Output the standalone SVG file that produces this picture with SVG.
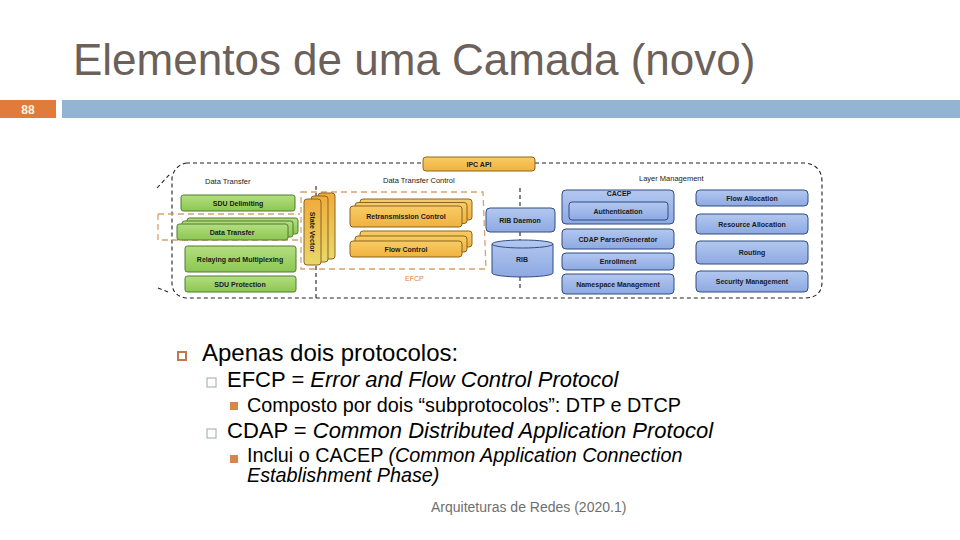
<svg xmlns="http://www.w3.org/2000/svg" width="960" height="540" viewBox="0 0 960 540">
<defs>
<linearGradient id="gGreen" x1="0" y1="0" x2="0" y2="1"><stop offset="0" stop-color="#b4de80"/><stop offset="1" stop-color="#8cc752"/></linearGradient>
<linearGradient id="gOrange" x1="0" y1="0" x2="0" y2="1"><stop offset="0" stop-color="#f8cc66"/><stop offset="1" stop-color="#f0b23e"/></linearGradient>
<linearGradient id="gSV" x1="0" y1="0" x2="0" y2="1"><stop offset="0" stop-color="#f0ac3c"/><stop offset="1" stop-color="#e8d86a"/></linearGradient>
<linearGradient id="gBlue" x1="0" y1="0" x2="0" y2="1"><stop offset="0" stop-color="#b3c8f0"/><stop offset="1" stop-color="#8ea9e2"/></linearGradient>
<style>
.title{font-family:"Liberation Sans",Arial,sans-serif;font-size:44px;fill:#6b605a}
.g{fill:url(#gGreen);stroke:#4f7a2c;stroke-width:1}
.o{fill:url(#gOrange);stroke:#8a6420;stroke-width:1}
.b{fill:url(#gBlue);stroke:#2f4d80;stroke-width:1}
.lbl{font-family:"Liberation Sans",Arial,sans-serif;font-size:7px;font-weight:bold;fill:#1a1a1a;text-anchor:middle}
.sec{font-family:"Liberation Sans",Arial,sans-serif;font-size:7.5px;fill:#1a1a1a}
.dash{fill:none;stroke:#222;stroke-width:1.1;stroke-dasharray:4 3}
.odash{fill:none;stroke:#d9a070;stroke-width:1.3;stroke-dasharray:6 4}
.t1{font-family:"Liberation Sans",Arial,sans-serif;font-size:24px;fill:#000}
.t2{font-family:"Liberation Sans",Arial,sans-serif;font-size:22px;fill:#000}
.t3{font-family:"Liberation Sans",Arial,sans-serif;font-size:19.8px;fill:#000}
</style>
</defs>
<rect width="960" height="540" fill="#ffffff"/>
<text class="title" x="73" y="75">Elementos de uma Camada (novo)</text>
<rect x="0" y="100" width="56" height="18" fill="#e07b3c"/>
<text x="28" y="113.5" font-family="Liberation Sans,Arial,sans-serif" font-size="12" font-weight="bold" fill="#fff4e0" text-anchor="middle">88</text>
<rect x="62" y="100" width="898" height="18" fill="#93b4d2"/>

<g id="connectors">
<path class="dash" d="M186,163 L423,163 M535,163 L805,163 Q822,165 822,182 L822,282 Q822,297 806,298 L186,298 Q173,296 172,284 L172,178 Q174,166 186,163"/>
<path class="dash" d="M157,188 L170,174 M158,288 L168,292"/>
<path class="dash" d="M316,186 L316,196 M316,266 L316,298 M520,188 L520,208 M520,232 L520,241 M520,277 L520,291"/>
</g>

<g id="highlight-efcp">
<path class="odash" d="M158,214 L300,214 M158,214 L158,240 L300,240"/>
<path class="odash" d="M301,192 L483,192 L486,269 L301,269 Z"/>
<text x="405" y="281" font-family="Liberation Sans,Arial,sans-serif" font-size="7" fill="#d9823a">EFCP</text>
</g>

<g id="ipc-api">
<rect class="o" x="423" y="157" width="112" height="14" rx="3"/>
<text class="lbl" x="479" y="166.5">IPC API</text>
</g>

<text class="sec" x="205" y="184">Data Transfer</text>
<text class="sec" x="383" y="183">Data Transfer Control</text>
<text class="sec" x="639" y="181">Layer Management</text>

<g id="sdu-delimiting">
<rect class="g" x="181" y="195" width="114" height="16" rx="2.5"/>
<text class="lbl" x="238" y="205.5">SDU Delimiting</text>
</g>
<g id="data-transfer">
<rect class="g" x="187" y="218" width="111" height="16" rx="2.5"/>
<rect class="g" x="182" y="221" width="111" height="16" rx="2.5"/>
<rect class="g" x="177" y="224" width="111" height="16" rx="2.5"/>
<text class="lbl" x="232" y="234.5">Data Transfer</text>
</g>
<g id="relaying">
<rect class="g" x="185" y="246" width="111" height="26" rx="2.5"/>
<text class="lbl" x="240" y="261.5">Relaying and Multiplexing</text>
</g>
<g id="sdu-protection">
<rect class="g" x="185" y="276" width="111" height="16" rx="2.5"/>
<text class="lbl" x="240" y="286.5">SDU Protection</text>
</g>

<g id="state-vector">
<rect fill="url(#gSV)" stroke="#8a6420" x="318" y="193" width="17" height="66" rx="3"/>
<rect fill="url(#gSV)" stroke="#8a6420" x="311" y="196" width="17" height="66" rx="3"/>
<rect fill="url(#gSV)" stroke="#8a6420" x="304" y="199" width="17" height="66" rx="3"/>
<text class="lbl" transform="translate(310,232) rotate(90)" x="0" y="0">State Vector</text>
</g>

<g id="retransmission-control">
<rect class="o" x="360" y="199" width="112" height="21" rx="3"/>
<rect class="o" x="355" y="202.5" width="112" height="21" rx="3"/>
<rect class="o" x="350" y="206" width="112" height="21" rx="3"/>
<text class="lbl" x="406" y="219">Retransmission Control</text>
</g>
<g id="flow-control">
<rect class="o" x="360" y="231" width="112" height="16" rx="3"/>
<rect class="o" x="355" y="236" width="112" height="16" rx="3"/>
<rect class="o" x="350" y="241" width="112" height="16" rx="3"/>
<text class="lbl" x="406" y="251.5">Flow Control</text>
</g>

<g id="rib-daemon">
<rect class="b" x="486" y="208" width="69" height="24" rx="4"/>
<text class="lbl" x="520" y="222.5">RIB Daemon</text>
</g>
<g id="rib">
<path class="b" d="M492,244 L492,273 A30.5,4 0 0 0 553,273 L553,244 A30.5,4 0 0 0 492,244 Z"/>
<path fill="none" stroke="#2f4d80" d="M492,244 A30.5,4 0 0 0 553,244"/>
<text class="lbl" x="522" y="262">RIB</text>
</g>

<g id="cacep">
<rect class="b" x="562" y="190" width="112" height="34" rx="4"/>
<text class="lbl" x="619" y="196">CACEP</text>
<rect class="b" x="569" y="202" width="99" height="18" rx="3"/>
<text class="lbl" x="618" y="213.5">Authentication</text>
</g>
<g id="cdap-parser">
<rect class="b" x="562" y="229" width="112" height="20" rx="4"/>
<text class="lbl" x="618" y="241.5">CDAP Parser/Generator</text>
</g>
<g id="enrollment">
<rect class="b" x="562" y="253" width="112" height="17" rx="4"/>
<text class="lbl" x="618" y="264">Enrollment</text>
</g>
<g id="namespace-management">
<rect class="b" x="562" y="274" width="112" height="20" rx="4"/>
<text class="lbl" x="618" y="286.5">Namespace Management</text>
</g>
<g id="flow-allocation">
<rect class="b" x="696" y="190" width="112" height="16" rx="4"/>
<text class="lbl" x="752" y="200.5">Flow Allocation</text>
</g>
<g id="resource-allocation">
<rect class="b" x="696" y="214" width="112" height="20" rx="4"/>
<text class="lbl" x="752" y="226.5">Resource Allocation</text>
</g>
<g id="routing">
<rect class="b" x="696" y="241" width="112" height="23" rx="4"/>
<text class="lbl" x="752" y="255">Routing</text>
</g>
<g id="security-management">
<rect class="b" x="696" y="271" width="112" height="21" rx="4"/>
<text class="lbl" x="752" y="284">Security Management</text>
</g>

<rect x="178" y="352" width="8" height="8" fill="none" stroke="#c07850" stroke-width="2"/>
<text class="t1" x="202" y="361">Apenas dois protocolos:</text>
<rect x="207" y="378" width="9" height="9" fill="none" stroke="#9aa8b0" stroke-width="1"/>
<text class="t2" x="227" y="387">EFCP = <tspan font-style="italic">Error and Flow Control Protocol</tspan></text>
<rect x="230" y="402" width="8" height="8" fill="#d9844a"/>
<text class="t3" x="247" y="412">Composto por dois “subprotocolos”: DTP e DTCP</text>
<rect x="207" y="429" width="9" height="9" fill="none" stroke="#9aa8b0" stroke-width="1"/>
<text class="t2" x="227" y="438">CDAP = <tspan font-style="italic">Common Distributed Application Protocol</tspan></text>
<rect x="230" y="455" width="8" height="8" fill="#d9844a"/>
<text class="t3" x="247" y="462">Inclui o CACEP <tspan font-style="italic">(Common Application Connection</tspan></text>
<text class="t3" x="247" y="482" font-style="italic">Establishment Phase)</text>
<text x="431" y="512" font-family="Liberation Sans,Arial,sans-serif" font-size="14" fill="#6f6f6f">Arquiteturas de Redes (2020.1)</text>
</svg>
